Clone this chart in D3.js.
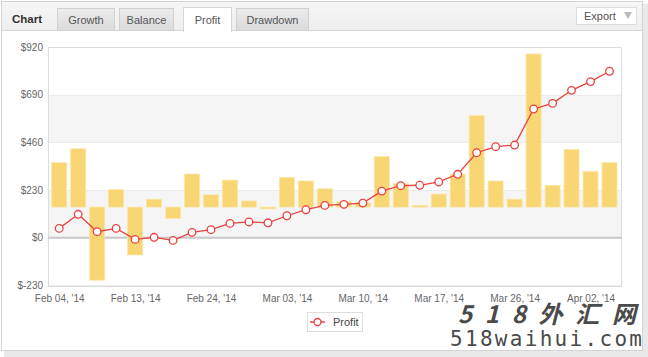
<!DOCTYPE html>
<html>
<head>
<meta charset="utf-8">
<script src="https://cdn.jsdelivr.net/npm/d3@7/dist/d3.min.js"></script>
<style>
  html, body { margin: 0; padding: 0; background: #ffffff; }
  svg { display: block; font-family: "Liberation Sans", Arial, sans-serif; }
</style>
</head>
<body>
<svg id="chart" width="648" height="357"></svg>
<script>
// ---------- DATA ----------
const dates = ["Feb 04, '14","Feb 05, '14","Feb 07, '14","Feb 11, '14","Feb 13, '14","Feb 17, '14",
  "Feb 19, '14","Feb 21, '14","Feb 24, '14","Feb 25, '14","Feb 26, '14","Feb 28, '14",
  "Mar 03, '14","Mar 04, '14","Mar 05, '14","Mar 07, '14","Mar 10, '14","Mar 11, '14",
  "Mar 13, '14","Mar 14, '14","Mar 17, '14","Mar 19, '14","Mar 21, '14","Mar 25, '14",
  "Mar 26, '14","Mar 27, '14","Mar 28, '14","Mar 31, '14","Apr 02, '14","Apr 03, '14"];
// cumulative profit (line)
const profit = [45,113,29,45,-8,2,-13,26,39,69,76,72,106,135,156,161,167,225,251,253,269,306,410,439,447,621,648,711,753,803];
// daily profit (bars, secondary axis)
const daily = [51,67,-84,20,-55,9,-13,38,14,31,7,-2,34,30,21,6,5,58,27,2,15,38,105,30,9,176,25,66,41,51];
const yTicks = [-230,0,230,460,690,920];
const tabs = ["Growth","Balance","Profit","Drawdown"];
const activeTab = "Profit";
const seriesName = "Profit";

// ---------- LAYOUT ----------
const svg = d3.select("#chart");
const plot = {left: 48, right: 622, top: 47, bottom: 287};

// shadow + frame
svg.append("rect").attr("x",4).attr("y",4).attr("width",644).attr("height",353).attr("fill","#e9e9e9");
svg.append("rect").attr("x",1.5).attr("y",1.5).attr("width",641).attr("height",349)
  .attr("fill","#ffffff").attr("stroke","#d4d4d4");

// header
const defs = svg.append("defs");
const hg = defs.append("linearGradient").attr("id","hdr").attr("x1",0).attr("y1",0).attr("x2",0).attr("y2",1);
hg.append("stop").attr("offset","0%").attr("stop-color","#f6f6f6");
hg.append("stop").attr("offset","100%").attr("stop-color","#eeeeee");
const tg = defs.append("linearGradient").attr("id","tab").attr("x1",0).attr("y1",0).attr("x2",0).attr("y2",1);
tg.append("stop").attr("offset","0%").attr("stop-color","#ececec");
tg.append("stop").attr("offset","100%").attr("stop-color","#dadada");

svg.append("rect").attr("x",2).attr("y",2).attr("width",640).attr("height",28).attr("fill","url(#hdr)");
svg.append("line").attr("x1",2).attr("x2",642).attr("y1",30.5).attr("y2",30.5).attr("stroke","#d6d6d6");

svg.append("text").attr("x",12).attr("y",23).attr("font-size",11.5).attr("font-weight","bold")
  .attr("fill","#333").text("Chart");

const tabPos = [[57,114],[119,173],[183,231],[236,308]];
tabs.forEach((t,i) => {
  const [x0,x1] = tabPos[i];
  const active = t === activeTab;
  svg.append("rect").attr("x",x0+0.5).attr("y",active?7.5:8.5).attr("width",x1-x0)
    .attr("height",active?24:22).attr("fill",active?"#ffffff":"url(#tab)")
    .attr("stroke",active?"#d6d6d6":"#d0d0d0");
  if (active) svg.append("rect").attr("x",x0+1).attr("y",29).attr("width",x1-x0-1).attr("height",3).attr("fill","#fff");
  svg.append("text").attr("x",(x0+x1)/2+0.5).attr("y",23.5).attr("text-anchor","middle")
    .attr("font-size",11).attr("fill","#555").text(t);
});

// export button
svg.append("rect").attr("x",576.5).attr("y",7.5).attr("width",60).attr("height",17)
  .attr("fill","#fff").attr("stroke","#dcdcdc");
svg.append("text").attr("x",584).attr("y",20).attr("font-size",11).attr("fill","#555").text("Export");
svg.append("path").attr("d","M624,12 L632,12 L628,19 Z").attr("fill","#bbbbbb");

// ---------- SCALES ----------
const x = d3.scalePoint().domain(dates).range([59.2, 609.5]);
const barW = 15;
const y = d3.scaleLinear().domain([-230, 920]).range([285.4, 47]);
const y2 = d3.scaleLinear().domain([-90, 184]).range([285.4, 47]);

// plot bands
const bands = [[0,230],[460,690]];
svg.append("g").selectAll("rect").data(bands).join("rect")
  .attr("x",plot.left).attr("width",plot.right-plot.left)
  .attr("y",d=>y(d[1])).attr("height",d=>y(d[0])-y(d[1]))
  .attr("fill","#f5f5f5");

// grid lines
svg.append("g").selectAll("line").data(yTicks.filter(v=>v!==0)).join("line")
  .attr("x1",plot.left).attr("x2",plot.right)
  .attr("y1",d=>Math.round(y(d))+0.5).attr("y2",d=>Math.round(y(d))+0.5)
  .attr("stroke","#ececec");

// plot frame
svg.append("rect").attr("x",plot.left+0.5).attr("y",plot.top+0.5)
  .attr("width",plot.right-plot.left-1).attr("height",plot.bottom-plot.top-1)
  .attr("fill","none").attr("stroke","#dcdcdc");

// zero line
svg.append("line").attr("x1",plot.left).attr("x2",plot.right)
  .attr("y1",y(0)).attr("y2",y(0)).attr("stroke","#c8c8c8").attr("stroke-width",2);

// bars
svg.append("g").selectAll("rect").data(daily).join("rect")
  .attr("x",(d,i)=>x(dates[i])-barW/2)
  .attr("width",barW)
  .attr("y",d=>Math.min(y2(d),y2(0)))
  .attr("height",d=>Math.max(1,Math.abs(y2(d)-y2(0))))
  .attr("fill","#f7d46b").attr("fill-opacity",0.95)
  .attr("stroke","#fbe6a6").attr("stroke-width",0.8);

// line
const line = d3.line().x((d,i)=>x(dates[i])).y(d=>y(d));
svg.append("path").datum(profit).attr("d",line).attr("fill","none")
  .attr("stroke","#e8413f").attr("stroke-width",1.3);
svg.append("g").selectAll("circle").data(profit).join("circle")
  .attr("cx",(d,i)=>x(dates[i])).attr("cy",d=>y(d)).attr("r",3.8)
  .attr("fill","#fff").attr("stroke","#e8413f").attr("stroke-width",1.3);

// y axis labels
const yAxis = d3.axisLeft(y).tickValues(yTicks).tickSize(0).tickPadding(0).tickFormat(d=>"$"+d);
const gy = svg.append("g").attr("transform",`translate(43,0)`).call(yAxis);
gy.select(".domain").remove();
gy.selectAll("text").attr("font-size",10).attr("fill","#666").attr("font-family","Liberation Sans, Arial, sans-serif");

// x axis labels
const xAxis = d3.axisBottom(x).tickValues(dates.filter((d,i)=>i%4===0)).tickSize(0).tickPadding(0);
const gx = svg.append("g").attr("transform",`translate(0,295)`).call(xAxis);
gx.select(".domain").remove();
gx.selectAll("text").attr("font-size",10).attr("fill","#666").attr("dy","0.71em")
  .attr("font-family","Liberation Sans, Arial, sans-serif");

// legend
svg.append("rect").attr("x",307.5).attr("y",312.5).attr("width",55).attr("height",19)
  .attr("fill","#fff").attr("stroke","#dddddd");
svg.append("line").attr("x1",310).attr("x2",325).attr("y1",322).attr("y2",322)
  .attr("stroke","#e8413f").attr("stroke-width",1.5);
svg.append("circle").attr("cx",317.5).attr("cy",322).attr("r",3.5)
  .attr("fill","#fff").attr("stroke","#e8413f").attr("stroke-width",1.3);
svg.append("text").attr("x",333).attr("y",326).attr("font-size",11).attr("fill","#444").text(seriesName);

// watermark (kept clear of the axis labels)
svg.append("text").attr("x",458).attr("y",323).attr("font-size",24).attr("font-weight","bold")
  .attr("font-style","italic").attr("fill","#4a4a4a").attr("textLength",178)
  .attr("font-family","Noto Sans CJK SC, sans-serif").text("518外汇网");
svg.append("text").attr("x",450).attr("y",346).attr("font-size",21).attr("fill","#4a4a4a")
  .attr("textLength",192).attr("font-family","DejaVu Sans Mono, monospace").text("518waihui.com");
</script>
</body>
</html>
